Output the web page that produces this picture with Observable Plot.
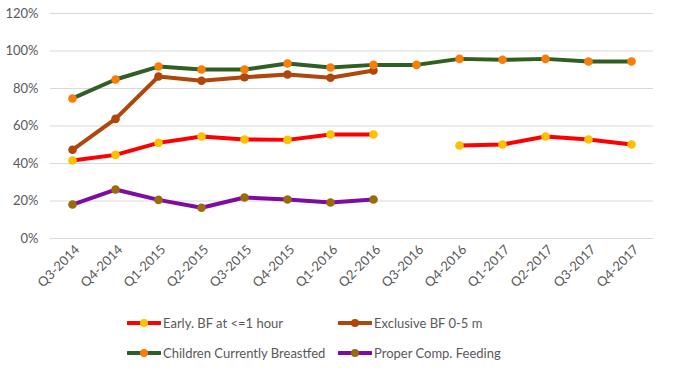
<!DOCTYPE html>
<html>
<head>
<meta charset="utf-8">
<script src="https://cdn.jsdelivr.net/npm/d3@7"></script>
<script src="https://cdn.jsdelivr.net/npm/@observablehq/plot@0.6"></script>
<style>
  html, body { margin: 0; padding: 0; background: #fff; }
  #wrap { position: relative; width: 673px; height: 376px; font-family: Lato, "Liberation Sans", sans-serif; }
  .leg { position: absolute; display: flex; align-items: center; font-size: 13px; color: #595959; white-space: nowrap; }
  .leg svg { display: block; margin-right: 2px; }
</style>
</head>
<body>
<div id="wrap"></div>
<script>
const quarters = ["Q3-2014","Q4-2014","Q1-2015","Q2-2015","Q3-2015","Q4-2015","Q1-2016","Q2-2016","Q3-2016","Q4-2016","Q1-2017","Q2-2017","Q3-2017","Q4-2017"];
const earlyBF     = [41.6, 44.6, 51.0, 54.4, 52.8, 52.6, 55.5, 55.5, null, 49.6, 50.1, 54.4, 52.8, 50.1];
const exclusiveBF = [47.3, 63.8, 86.4, 84.1, 86.0, 87.5, 85.7, 89.6, null, null, null, null, null, null];
const currentlyBF = [74.7, 84.8, 91.7, 90.1, 90.1, 93.3, 91.2, 92.6, 92.6, 95.8, 95.3, 95.8, 94.4, 94.4];
const properComp  = [18.1, 26.1, 20.6, 16.4, 21.9, 20.8, 19.2, 20.8, null, null, null, null, null, null];
const yTicks = [0, 0.2, 0.4, 0.6, 0.8, 1.0, 1.2];

const series = [
  {name: "Early. BF at <=1 hour", values: earlyBF, line: "#FF0000", dot: "#FFC000"},
  {name: "Exclusive BF 0-5 m", values: exclusiveBF, line: "#AE470B", dot: "#AE470B"},
  {name: "Children Currently Breastfed", values: currentlyBF, line: "#2F5F22", dot: "#FA7D08"},
  {name: "Proper Comp. Feeding", values: properComp, line: "#7E0CA0", dot: "#9A6B0C"}
];

const marks = [
  Plot.ruleY(yTicks, {stroke: "#d9d9d9", strokeWidth: 1}),
  Plot.axisX({tickSize: 0, tickRotate: -45, tickPadding: 6, dx: 5, dy: 3, label: null, fill: "#595959"}),
  Plot.axisY({ticks: yTicks, tickFormat: d3.format(".0%"), tickSize: 0, tickPadding: 12, label: null, fill: "#595959"})
];
for (const s of series) {
  const data = quarters.map((q, i) => ({q, v: s.values[i] == null ? NaN : s.values[i] / 100}));
  marks.push(Plot.line(data, {x: "q", y: "v", stroke: s.line, strokeWidth: 4, strokeLinejoin: "round", strokeLinecap: "round"}));
  marks.push(Plot.dot(data.filter(d => !isNaN(d.v)), {x: "q", y: "v", r: 4.3, fill: s.dot, stroke: "none"}));
}

const chart = Plot.plot({
  width: 673,
  height: 305,
  marginLeft: 50,
  marginRight: 20,
  marginTop: 13,
  marginBottom: 67,
  style: {fontFamily: "Lato, 'Liberation Sans', sans-serif", fontSize: "13px", color: "#595959", background: "#fff"},
  x: {type: "point", domain: quarters, padding: 0.5, label: null},
  y: {domain: [0, 1.2], label: null},
  marks
});

const wrap = document.getElementById("wrap");
wrap.appendChild(chart);

const legPos = [
  {x: 127, y: 323}, {x: 338, y: 323},
  {x: 127, y: 353}, {x: 338, y: 353}
];
series.forEach((s, i) => {
  const div = document.createElement("div");
  div.className = "leg";
  div.style.left = legPos[i].x + "px";
  div.style.top = (legPos[i].y - 9) + "px";
  div.style.height = "18px";
  div.innerHTML = `<svg width="34" height="12"><line x1="1" y1="6" x2="33" y2="6" stroke="${s.line}" stroke-width="4" stroke-linecap="round"/><circle cx="17" cy="6" r="4" fill="${s.dot}"/></svg><span>${s.name.replace(/</g, "&lt;")}</span>`;
  wrap.appendChild(div);
});
</script>
</body>
</html>
